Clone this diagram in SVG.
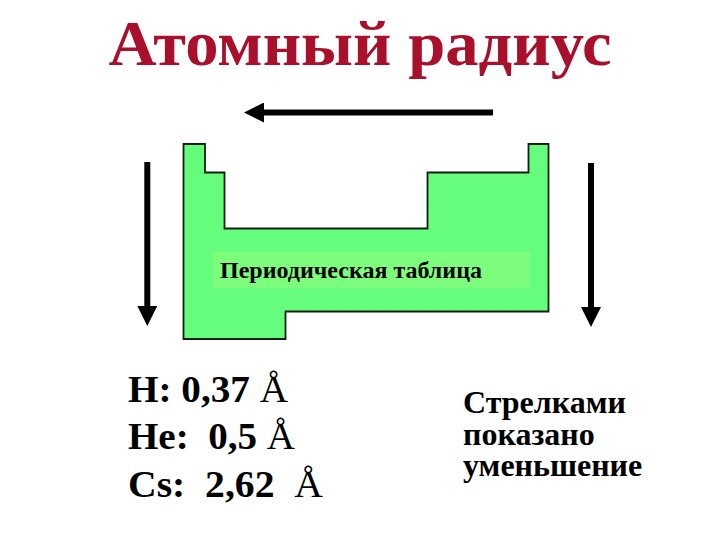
<svg xmlns="http://www.w3.org/2000/svg" width="720" height="540" viewBox="0 0 720 540">
<style>
.title{font-family:"Liberation Serif","Times New Roman",serif;font-weight:bold;font-size:63px;fill:#A8102C}
.lbl{font-family:"Liberation Serif","Times New Roman",serif;font-weight:bold;font-size:24px;fill:#000}
.val{font-family:"Liberation Serif","Times New Roman",serif;font-weight:bold;font-size:37px;fill:#000;white-space:pre}
.ang{font-weight:normal}
.note{font-family:"Liberation Serif","Times New Roman",serif;font-weight:bold;font-size:32px;fill:#000}
.arr{stroke:#000;stroke-width:6;fill:none}
</style>
<defs>
<marker id="ah" viewBox="0 0 20 20" refX="2" refY="10" markerWidth="20" markerHeight="20" markerUnits="userSpaceOnUse" orient="auto">
<path d="M0,0 L20,10 L0,20 Z" fill="#000"/>
</marker>
</defs>
<rect width="720" height="540" fill="#fff"/>
<g id="title"><text class="title" x="360" y="65" text-anchor="middle" textLength="503" lengthAdjust="spacingAndGlyphs">Атомный радиус</text></g>
<g id="table">
<path d="M183.5,144 H205 V172.5 H224.5 V228.5 H427.5 V172.5 H528.5 V144 H548.5 V311.5 H285.5 V339 H183.5 Z" fill="#66FC7C" stroke="#102010" stroke-width="1.8"/>
<rect x="213" y="251.5" width="317" height="36.5" fill="#7CFE7C"/>
<text class="lbl" x="220" y="278" textLength="262" lengthAdjust="spacingAndGlyphs">Периодическая таблица</text>
</g>
<g id="connectors">
<line class="arr" x1="493" y1="112.5" x2="262" y2="112.5" marker-end="url(#ah)"/>
<line class="arr" x1="147.3" y1="162" x2="147.3" y2="308" marker-end="url(#ah)"/>
<line class="arr" x1="591" y1="163" x2="591" y2="309" marker-end="url(#ah)"/>
</g>
<g id="values">
<text class="val" xml:space="preserve" x="128" y="401.5" textLength="160" lengthAdjust="spacingAndGlyphs">H: 0,37 <tspan class="ang">Å</tspan></text>
<text class="val" xml:space="preserve" x="128" y="449" textLength="167" lengthAdjust="spacingAndGlyphs">He:  0,5 <tspan class="ang">Å</tspan></text>
<text class="val" xml:space="preserve" x="128" y="496.5" textLength="195" lengthAdjust="spacingAndGlyphs">Cs:  2,62  <tspan class="ang">Å</tspan></text>
</g>
<g id="note">
<text class="note" x="463" y="413">Стрелками</text>
<text class="note" x="463" y="445">показано</text>
<text class="note" x="463" y="476">уменьшение</text>
</g>
</svg>
